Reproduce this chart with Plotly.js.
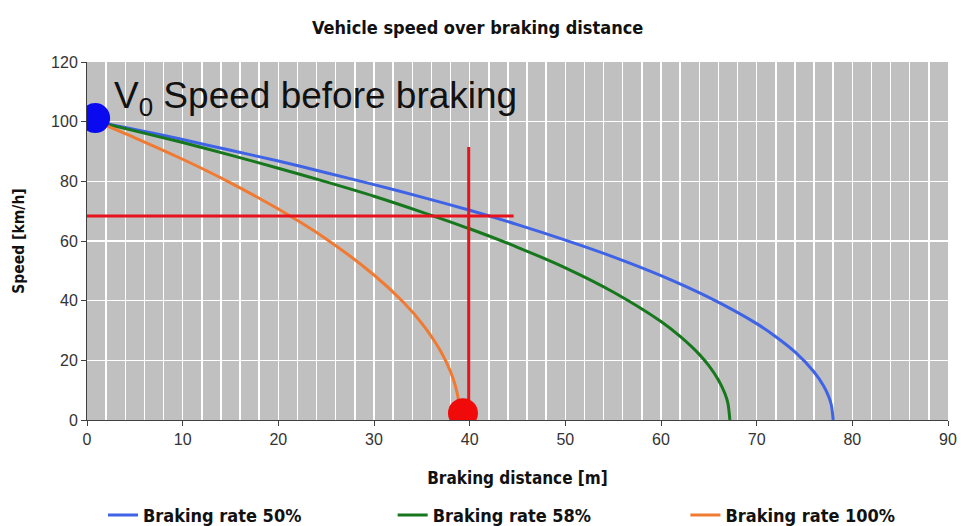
<!DOCTYPE html>
<html>
<head>
<meta charset="utf-8">
<script src="https://cdn.plot.ly/plotly-3.0.1.min.js"></script>
<style>html,body{margin:0;padding:0;background:#fff;}#chart{width:965px;height:526px;}</style>
</head>
<body>
<div id="chart"></div>
<script>
// Braking rate 50%
const dist50  = [1, 5, 10, 15, 20, 25, 30, 35, 40, 45, 50, 55, 60, 65, 70, 72, 74, 76, 77, 77.5, 77.8, 78];
const speed50 = [100, 97.4, 94.0, 90.4, 86.8, 82.9, 78.9, 74.7, 70.3, 65.5, 60.3, 54.7, 48.4, 41.1, 32.3, 27.9, 22.8, 16.1, 11.4, 8.1, 5.1, 0];
// Braking rate 58%
const dist58  = [1, 5, 10, 15, 20, 25, 30, 35, 40, 45, 50, 55, 60, 62, 64, 65, 66, 66.7, 67.0, 67.2];
const speed58 = [100, 96.9, 93.0, 88.8, 84.4, 79.8, 75.0, 69.7, 64.1, 57.9, 51.0, 42.9, 33.0, 28.0, 22.0, 18.2, 13.4, 8.7, 5.5, 0];
// Braking rate 100%
const dist100  = [1, 5, 10, 15, 20, 25, 30, 33, 35, 37, 38, 38.5, 38.8, 39];
const speed100 = [100, 94.6, 87.4, 79.5, 70.7, 60.7, 48.6, 39.7, 32.4, 22.9, 16.2, 11.5, 7.3, 0];
// Markers and guide lines
const startPoint = {x: [0.85], y: [101.2]};
const stopPoint  = {x: [39.3], y: [2.3]};
const hLine = {x: [0, 44.6], y: [68.4, 68.4]};
const vLine = {x: [39.9, 39.9], y: [0, 91.5]};
const seriesNames = ['Braking rate 50%', 'Braking rate 58%', 'Braking rate 100%'];
const xTicks = [0, 10, 20, 30, 40, 50, 60, 70, 80, 90];
const yTicks = [0, 20, 40, 60, 80, 100, 120];

const narrow = '"Liberation Sans Narrow", "Arial Narrow", "DejaVu Sans Condensed", "Liberation Sans", Arial, sans-serif';
const tickFam = '"Liberation Sans Narrow", "Arial Narrow", "Liberation Sans", Arial, sans-serif';

const traces = [
  {x: dist50, y: speed50, mode: 'lines', name: '<b>' + seriesNames[0] + '</b>', legend: 'legend', line: {color: '#3f63e6', width: 3, shape: 'spline', smoothing: 0.8}},
  {x: dist58, y: speed58, mode: 'lines', name: '<b>' + seriesNames[1] + '</b>', legend: 'legend2', line: {color: '#17771d', width: 3, shape: 'spline', smoothing: 0.8}},
  {x: dist100, y: speed100, mode: 'lines', name: '<b>' + seriesNames[2] + '</b>', legend: 'legend3', line: {color: '#f07a32', width: 3, shape: 'spline', smoothing: 0.8}},
  {x: hLine.x, y: hLine.y, mode: 'lines', showlegend: false, line: {color: '#e8121c', width: 3}},
  {x: vLine.x, y: vLine.y, mode: 'lines', showlegend: false, line: {color: '#e8121c', width: 3}},
  {x: startPoint.x, y: startPoint.y, mode: 'markers', showlegend: false, marker: {color: '#0a0af0', size: 30}},
  {x: stopPoint.x, y: stopPoint.y, mode: 'markers', showlegend: false, marker: {color: '#f00a0a', size: 30}}
];

function leg(xp) {
  return {orientation: 'h', x: xp, xanchor: 'left', y: -0.266, yanchor: 'middle',
          font: {family: narrow, size: 18, color: '#111'}, bgcolor: 'rgba(0,0,0,0)'};
}

const layout = {
  width: 965, height: 526,
  margin: {l: 87, r: 17, t: 62, b: 106, autoexpand: false},
  paper_bgcolor: '#ffffff',
  plot_bgcolor: '#c0c0c0',
  title: {text: '<b>Vehicle speed over braking distance</b>', x: 0.495, xanchor: 'center', y: 0.947, yanchor: 'middle',
          font: {family: narrow, size: 18, color: '#111'}},
  xaxis: {
    range: [0, 90], tickvals: xTicks, ticktext: xTicks.map(String),
    showgrid: true, gridcolor: '#ffffff', gridwidth: 1.5,
    minor: {dtick: 2, showgrid: true, gridcolor: '#ffffff', gridwidth: 1.5},
    showline: true, linecolor: '#404040', linewidth: 1,
    ticks: 'outside', ticklen: 5, tickcolor: '#404040',
    zeroline: false,
    tickfont: {family: tickFam, size: 16, color: '#333'},
    title: {text: '<b>Braking distance [m]</b>', font: {family: narrow, size: 17, color: '#111'}, standoff: 24}
  },
  yaxis: {
    range: [0, 120], tickvals: yTicks, ticktext: yTicks.map(String),
    showgrid: true, gridcolor: '#ffffff', gridwidth: 1.5,
    showline: true, linecolor: '#404040', linewidth: 1,
    ticks: 'outside', ticklen: 5, tickcolor: '#404040',
    zeroline: false,
    tickfont: {family: tickFam, size: 16, color: '#333'},
    title: {text: '<b>Speed [km/h]</b>', font: {family: narrow, size: 15.5, color: '#111'}, standoff: 22}
  },
  showlegend: true,
  legend: leg(0.0186),
  legend2: leg(0.355),
  legend3: leg(0.695),
  annotations: [{
    text: 'V<sub>0</sub> Speed before braking', xref: 'x', yref: 'y', x: 2.6, y: 107.8,
    xanchor: 'left', yanchor: 'middle', showarrow: false,
    font: {family: '"Liberation Sans", Arial, sans-serif', size: 37, color: '#111'}
  }]
};

Plotly.newPlot('chart', traces, layout, {displayModeBar: false, staticPlot: true});
</script>
</body>
</html>
